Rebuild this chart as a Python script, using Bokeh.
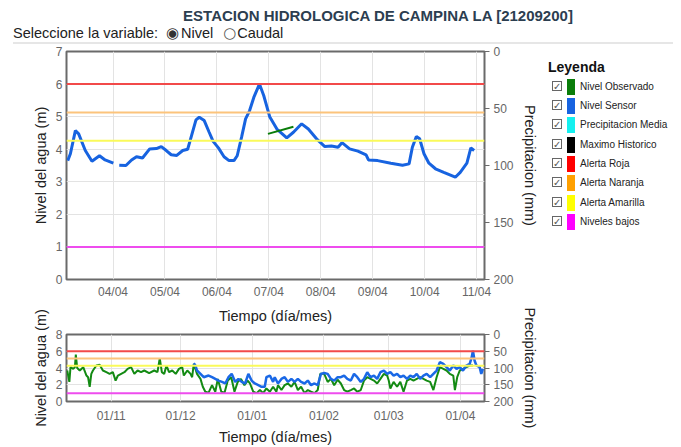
import numpy as np
import pandas as pd
from bokeh.plotting import figure
from bokeh.models import (Range1d, LinearAxis, Span, Div, DatetimeTickFormatter,
                          DaysTicker, MonthsTicker, FixedTicker)
from bokeh.layouts import column, row
from bokeh.embed import file_html
from bokeh.resources import INLINE

FONT = "Liberation Sans"

# ---------------- data ----------------
title_text = "ESTACION HIDROLOGICA DE CAMPINA LA [21209200]"

# thresholds (m)
alert_names = ["Alerta Roja", "Alerta Naranja", "Alerta Amarilla", "Niveles bajos"]
alert_levels = [6.0, 5.13, 4.26, 1.0]
alert_colors = ["#f24a4a", "#fcc47c", "#fafa5a", "#ee4cee"]

legend_names = ["Nivel Observado", "Nivel Sensor", "Precipitacion Media", "Maximo Historico",
                "Alerta Roja", "Alerta Naranja", "Alerta Amarilla", "Niveles bajos"]
legend_colors = ["#0a7d0a", "#1763e0", "#14f0f0", "#000000",
                 "#ff0000", "#ffa000", "#ffff00", "#ff00ff"]

# main chart: day of April 2025 (fractional) and level (m)
main_sensor_day = [3.128, 3.179, 3.275, 3.338, 3.466, 3.594, 3.739, 3.847, 4.006, 4.06,
                   4.120, 4.248, 4.357, 4.452, 4.567, 4.706, 4.834, 4.929, 5.025, 5.120,
                   5.227, 5.342, 5.437, 5.521, 5.597, 5.660, 5.756, 5.851, 5.927, 6.029,
                   6.137, 6.233, 6.328, 6.391, 6.475, 6.552, 6.628, 6.710, 6.819, 6.901,
                   7.016, 7.155, 7.345, 7.473, 7.632, 7.760, 7.918, 8.078, 8.204, 8.332,
                   8.408, 8.555, 8.714, 8.872, 8.918, 9.095, 9.349, 9.573, 9.700, 9.763,
                   9.840, 9.903, 9.987, 10.082, 10.208, 10.368, 10.590, 10.685, 10.813,
                   10.889, 10.952]
main_sensor_val = [3.65, 3.86, 4.57, 4.47, 3.96, 3.63, 3.80, 3.67, 3.57, np.nan,
                   3.51, 3.50, 3.67, 3.77, 3.73, 4.01, 4.02, 4.08, 3.96, 3.83,
                   3.81, 3.96, 4.00, 4.47, 4.90, 4.98, 4.88, 4.52, 4.24, 4.04,
                   3.77, 3.65, 3.65, 3.80, 4.37, 4.93, 5.18, 5.59, 6.00, 5.65,
                   5.00, 4.62, 4.35, 4.52, 4.78, 4.62, 4.32, 4.08, 4.10, 4.06,
                   4.20, 4.01, 3.94, 3.83, 3.67, 3.65, 3.57, 3.51, 3.55, 4.06,
                   4.39, 4.32, 3.86, 3.57, 3.40, 3.29, 3.14, 3.29, 3.57,
                   4.04, 3.96]
main_obs_day = [6.983, 7.473]
main_obs_val = [4.47, 4.69]

# overview chart: days from 2024-11-01 and level (m)
bot_obs_day = [-19.0, -18.1, -17.6, -16.4, -15.7, -15.3, -14.7, -13.6, -12.1, -10.7,
               -10.0, -9.3, -8.6, -7.9, -6.4, -5.0, -3.6, -2.1, -0.7, 0.7,
               1.9, 2.9, 4.3, 5.7, 7.1, 8.6, 10.0, 11.4, 12.9, 14.3,
               16.4, 18.6, 20.0, 21.0, 21.9, 22.9, 23.9, 25.0, 26.4, 27.9,
               29.3, 30.7, 31.4, 32.9, 34.3, 35.0, 35.7, 37.1, 38.6, 39.6,
               40.7, 42.1, 43.6, 45.0, 46.1, 47.6, 49.0, 50.4, 51.9, 53.3,
               54.7, 56.1, 57.6, 59.0, 60.0, 61.4, 62.9, 64.3, 65.7, 67.1,
               68.6, 70.0, 71.4, 72.1, 73.6, 75.0, 76.4, 77.9, 79.3, 80.7,
               82.1, 83.6, 85.0, 86.4, 87.9, 89.3, 90.4, 92.1, 93.6, 95.0,
               96.4, 97.9, 99.3, 100.7, 102.1, 103.6, 105.0, 106.4, 107.9, 109.3,
               110.7, 113.6, 115.0, 116.4, 117.9, 119.3, 120.0, 120.7, 122.1, 123.6,
               125.0, 126.4, 127.9, 129.3, 130.7, 132.1, 133.6, 135.0, 136.4, 137.9,
               139.3, 140.7, 142.1, 143.6, 145.0, 146.4, 147.9, 148.6, 149.6, 150.7,
               152.1, 153.6, 155.0, 156.4]
bot_obs_val = [3.7, 2.34, 4.1, 3.9, 4.1, 5.59, 4.0, 3.7, 4.1, 3.1,
               2.9, 1.76, 3.3, 3.7, 4.3, 4.4, 3.7, 3.5, 3.3, 3.5,
               2.5, 3.1, 3.3, 3.5, 3.9, 4.1, 3.3, 3.7, 3.5, 3.7,
               3.4, 3.7, 3.5, 5.16, 3.5, 3.3, 4.3, 3.5, 3.7, 3.3,
               3.9, 4.1, 3.1, 3.7, 3.3, 2.9, 4.5, 3.3, 2.7, 1.76,
               1.17, 1.05, 1.95, 1.17, 2.7, 1.17, 1.05, 2.5, 2.9, 1.17,
               2.34, 2.7, 1.95, 2.5, 2.15, 1.17, 1.0, 1.37, 1.0, 1.56,
               1.17, 1.76, 1.17, 1.95, 1.37, 1.95, 2.15, 1.76, 2.34, 1.37,
               1.76, 1.0, 1.37, 1.17, 1.0, 1.37, 3.3, 3.3, 2.34, 2.7,
               1.95, 2.6, 2.15, 1.37, 1.17, 1.37, 1.56, 1.17, 1.37, 2.5,
               2.9, 2.5, 2.15, 2.7, 3.3, 3.1, 2.5, 1.56, 2.34, 1.76,
               2.34, 1.17, 2.5, 2.7, 2.5, 2.7, 2.9, 2.7, 2.5, 2.34,
               1.37, 2.9, 4.1, 3.9, 3.7, 3.3, 3.1, 1.37, 2.9, 3.7,
               3.9, 4.1, 4.3, 4.3]

bot_sensor_day = [35.7, 36.4, 37.1, 38.6, 40.0, 42.1, 43.6, 45.0, 46.4, 47.9,
                  49.3, 50.7, 52.1, 53.6, 55.0, 56.4, 57.9, 59.3, 60.7, 62.1,
                  63.6, 65.0, 66.4, 67.1, 68.6, 70.0, 70.7, 72.1, 73.6, 75.0,
                  76.4, 77.9, 79.3, 80.7, 82.1, 83.6, 85.0, 86.4, 87.9, 89.3,
                  90.7, 92.1, 93.6, 95.0, 96.4, 97.9, 99.3, 100.7, 102.1, 103.6,
                  105.0, 106.4, 107.9, 109.3, 110.7, 112.1, 113.6, 115.0, 116.4, 117.9,
                  119.3, 120.7, 122.1, 123.6, 125.0, 126.4, 127.9, 129.3, 130.7, 132.1,
                  133.6, 135.0, 136.4, 137.9, 139.3, 140.7, 142.1, 143.6, 145.0, 146.4,
                  147.9, 149.3, 150.7, 152.1, 153.6, 155.0, 155.8, 156.4, 157.1, 157.9,
                  159.3, 160.0, 160.7]
bot_sensor_val = [4.57, 4.3, 3.7, 3.3, 2.9, 3.1, 2.9, 2.7, 2.5, 2.34,
                  2.15, 2.9, 3.3, 2.34, 2.7, 2.34, 2.15, 3.3, 2.5, 2.15,
                  1.95, 1.76, 1.76, 2.9, 3.1, 2.34, 2.9, 2.15, 2.7, 2.9,
                  2.34, 2.7, 2.34, 2.7, 2.34, 2.15, 2.5, 1.95, 2.15, 1.95,
                  3.3, 3.4, 3.3, 2.7, 2.5, 2.9, 2.9, 3.1, 2.7, 2.5,
                  3.3, 2.9, 2.34, 2.7, 3.5, 2.9, 3.1, 2.7, 3.5, 3.7,
                  3.3, 3.5, 3.1, 3.3, 2.9, 3.1, 2.7, 3.1, 2.9, 3.3,
                  2.7, 3.1, 3.3, 2.9, 3.3, 3.7, 4.7, 4.5, 4.1, 3.7,
                  4.3, 3.9, 4.1, 3.7, 4.3, 4.5, 5.2, 6.05, 4.9, 4.3,
                  4.1, 3.3, 3.9]

# ---------------- helpers ----------------
main_base = pd.Timestamp("2025-04-01")
bot_base = pd.Timestamp("2024-11-01")


def to_main_dt(days):
    return [main_base + pd.Timedelta(days=d - 1) for d in days]


def to_bot_dt(days):
    return [bot_base + pd.Timedelta(days=d) for d in days]


def style_axis(ax):
    ax.axis_line_color = None
    ax.minor_tick_line_color = None
    ax.major_label_text_font = FONT
    ax.major_label_text_font_size = "12px"
    ax.major_label_text_color = "#666666"
    ax.axis_label_text_font = FONT
    ax.axis_label_text_font_size = "14.5px"
    ax.axis_label_text_font_style = "normal"
    ax.axis_label_text_color = "#222222"


def style_fig(p, ticker_y, xticker):
    p.outline_line_color = "#6a6a6a"
    p.outline_line_width = 2
    p.background_fill_color = "white"
    p.xgrid.grid_line_color = "#e3e3e3"
    p.ygrid.grid_line_color = "#e3e3e3"
    p.xaxis.ticker = xticker
    p.xaxis.formatter = DatetimeTickFormatter(days="%d/%m", months="%d/%m", hours="%d/%m")
    p.yaxis.ticker = FixedTicker(ticks=ticker_y)
    for ax in p.xaxis + p.yaxis:
        style_axis(ax)
        ax.major_tick_line_color = None
        ax.major_tick_out = 0
        ax.major_tick_in = 0
    p.yaxis.major_label_standoff = 4
    p.yaxis.axis_label_standoff = 4
    p.xaxis.axis_label = "Tiempo (día/mes)"
    p.yaxis.axis_label = "Nivel del agua (m)"
    rax = LinearAxis(y_range_name="precip", ticker=FixedTicker(ticks=[0, 50, 100, 150, 200]),
                     axis_label="Precipitacion (mm)")
    style_axis(rax)
    rax.major_tick_line_color = "#6a6a6a"
    rax.major_tick_out = 5
    rax.major_tick_in = 0
    rax.major_label_standoff = 4
    rax.axis_label_standoff = 5
    p.add_layout(rax, "right")
    for lvl, col in zip(alert_levels, alert_colors):
        p.add_layout(Span(location=lvl, dimension="width", line_color=col, line_width=2))


# ---------------- main chart ----------------
p = figure(width=532, height=284, x_axis_type="datetime",
           x_range=Range1d(main_base + pd.Timedelta(days=2.104), main_base + pd.Timedelta(days=10.152)),
           y_range=Range1d(0, 7), output_backend="svg", toolbar_location=None,
           min_border_left=58, min_border_right=52, min_border_top=7, min_border_bottom=49)
p.extra_y_ranges = {"precip": Range1d(200, 0)}
style_fig(p, list(range(8)), DaysTicker(days=list(range(1, 32))))
p.xaxis.major_label_standoff = 5
p.xaxis.axis_label_standoff = 6
p.line(to_main_dt(main_sensor_day), main_sensor_val, line_color=legend_colors[1], line_width=3)
p.line(to_main_dt(main_obs_day), main_obs_val, line_color=legend_colors[0], line_width=2)

# ---------------- overview chart ----------------
b = figure(width=532, height=147, x_axis_type="datetime",
           x_range=Range1d(bot_base - pd.Timedelta(days=19.33), bot_base + pd.Timedelta(days=161.4)),
           y_range=Range1d(0, 8), output_backend="svg", toolbar_location=None,
           min_border_left=58, min_border_right=52, min_border_top=34, min_border_bottom=44,
           margin=(-28, 0, 0, 0))
b.border_fill_color = None
b.extra_y_ranges = {"precip": Range1d(200, 0)}
style_fig(b, [0, 2, 4, 6, 8], MonthsTicker(months=list(range(12))))
b.xaxis.major_label_standoff = 7
b.xaxis.axis_label_standoff = 3
b.line(to_bot_dt(bot_obs_day), bot_obs_val, line_color="#138a13", line_width=2)
b.line(to_bot_dt(bot_sensor_day), bot_sensor_val, line_color="#1a68e6", line_width=2.5)

# ---------------- header and legend ----------------
header_html = (
    f'<div style="position:relative;width:665px;height:36px;font-family:\'{FONT}\',Arial,sans-serif;">'
    f'<div style="position:absolute;left:120px;width:500px;top:-1px;text-align:center;font-size:15px;'
    f'line-height:18px;font-weight:bold;color:#2c3e50;">{title_text}</div>'
    '<div style="position:absolute;left:5px;top:17px;font-size:14.5px;line-height:16px;color:#222;white-space:nowrap;">'
    'Seleccione la variable:'
    '<span style="display:inline-block;margin-left:8px;width:15px;font-family:\'DejaVu Sans\';font-size:15px;color:#333;">&#9673;</span>Nivel'
    '<span style="display:inline-block;margin-left:10px;width:14px;font-family:\'DejaVu Sans\';font-size:15px;color:#555;">&#9675;</span>Caudal'
    '</div>'
    '<div style="position:absolute;left:5px;top:34px;width:660px;height:2px;background:#e6e6e6;"></div>'
    '</div>'
)
header = Div(text=header_html, width=665, height=36, margin=(0, 0, 0, 0))

items = []
for i, (name, col) in enumerate(zip(legend_names, legend_colors)):
    cy = 42.7 + 19.3 * i
    items.append(
        f'<div style="position:absolute;left:12px;top:{cy - 6:.1f}px;width:10px;height:10px;'
        f'border:1px solid #666;font-size:10px;line-height:10px;text-align:center;color:#555;">&#10003;</div>'
        f'<div style="position:absolute;left:27px;top:{cy - 8:.1f}px;width:8px;height:16px;background:{col};"></div>'
        f'<div style="position:absolute;left:40px;top:{cy - 6:.1f}px;font-size:10px;line-height:12px;'
        f'color:#222;white-space:nowrap;">{name}</div>'
    )
legend_html = (
    f'<div style="position:relative;width:130px;height:281px;font-family:\'{FONT}\',Arial,sans-serif;">'
    '<div style="position:absolute;left:8px;top:15px;font-size:14px;line-height:16px;font-weight:bold;color:#111;">Leyenda</div>'
    + "".join(items) + '</div>'
)
legend = Div(text=legend_html, width=130, height=284, margin=(0, 0, 0, 0))

layout = column(header, row(p, legend, spacing=0), b, spacing=0, margin=(8, 0, 0, 8))

open("out.html", "w").write(file_html(layout, INLINE))
